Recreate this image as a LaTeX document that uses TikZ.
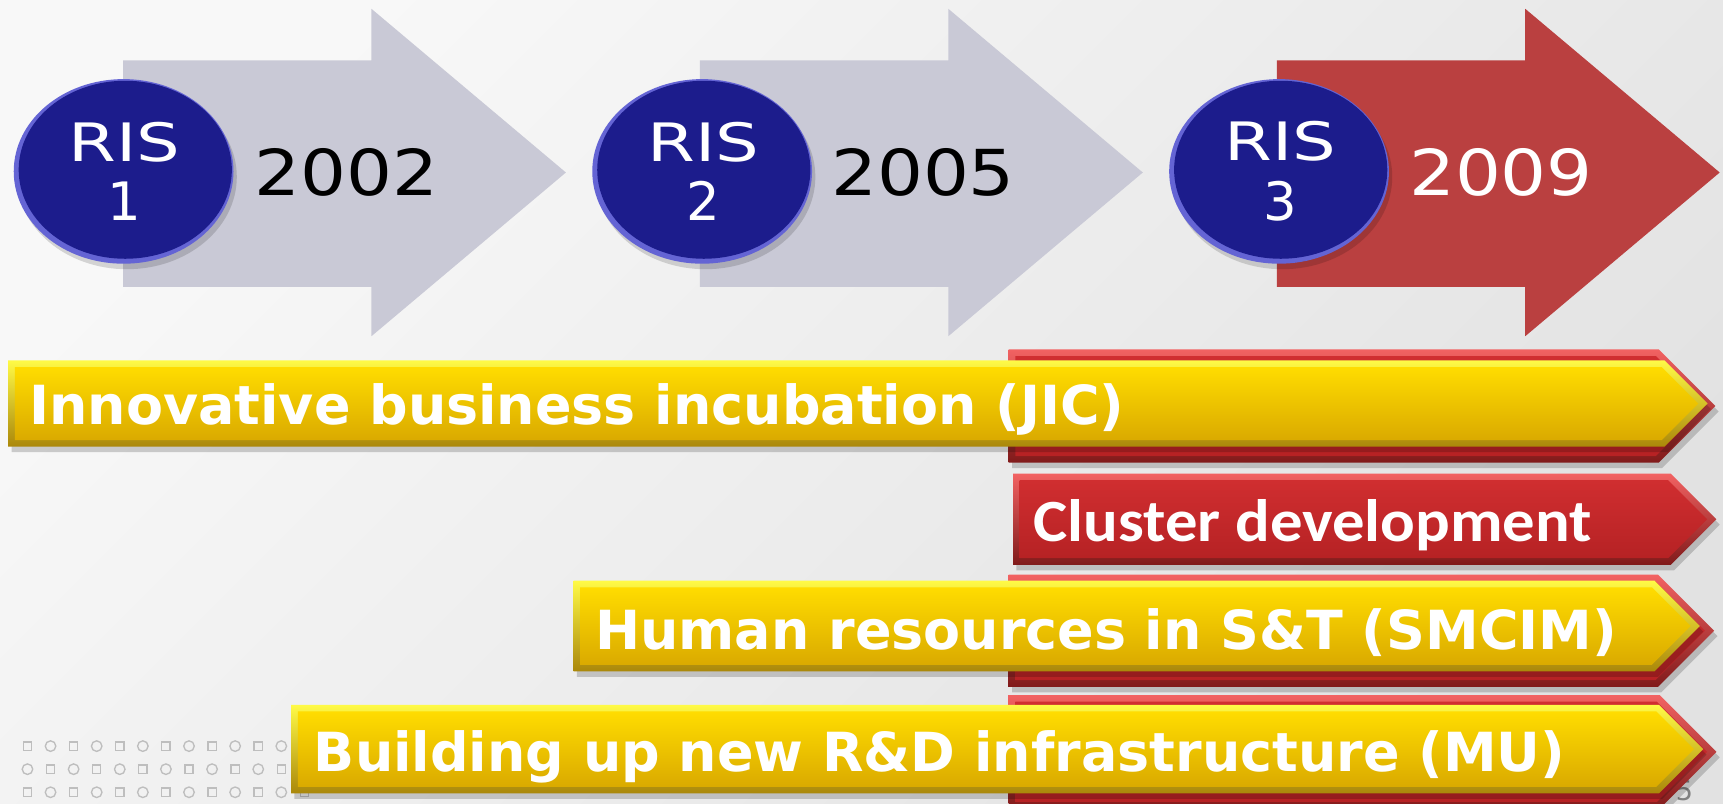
\documentclass[tikz,border=0pt]{standalone}
\usepackage{fontspec}
\setmainfont{DejaVu Sans}
\newfontfamily\calfont{Carlito}
\usepackage{graphicx}

\definecolor{bgA}{RGB}{248,248,248}
\definecolor{bgB}{RGB}{226,226,226}
\definecolor{stepgray}{RGB}{201,201,214}
\definecolor{stepred}{RGB}{186,64,64}
\definecolor{navy}{RGB}{28,28,140}
\definecolor{navyrim}{RGB}{100,100,212}
\definecolor{patgray}{RGB}{190,190,190}
\definecolor{ylTop}{RGB}{255,250,70}
\definecolor{ylBot}{RGB}{170,135,10}
\definecolor{ylInTop}{RGB}{255,220,0}
\definecolor{ylInBot}{RGB}{218,170,0}
\definecolor{rdTop}{RGB}{242,98,98}
\definecolor{rdBot}{RGB}{128,26,26}
\definecolor{rdInTop}{RGB}{208,46,48}
\definecolor{rdInBot}{RGB}{182,34,36}

% 帯の形
\newcommand{\barpath}[4]{(#1,#2) -- ({#4-((#3)-(#2))/2},#2) -- (#4,{((#2)+(#3))/2}) -- ({#4-((#3)-(#2))/2},#3) -- (#1,#3) -- cycle}
\newcommand{\bevelbar}[6]{%
  \fill[black,opacity=.18,shift={(3,5)}] \barpath{#1}{#2}{#3}{#4};
  \shade[#5] \barpath{#1}{#2}{#3}{#4};
  \shade[#6] \barpath{#1+6}{#2+6}{#3-6}{#4-8.5};}

\begin{document}
\begin{tikzpicture}[x=0.01cm, y=-0.01cm,
    yellowouter/.style={top color=ylTop, bottom color=ylBot},
    yellowinner/.style={top color=ylInTop, bottom color=ylInBot},
    redouter/.style={top color=rdTop, bottom color=rdBot},
    redinner/.style={top color=rdInTop, bottom color=rdInBot},
    patmark/.style={draw=patgray, line width=0.35pt},
    ristext/.style={text=white, align=center, inner sep=0pt, font=\fontsize{13.7}{15.4}\selectfont},
    yeartext/.style={inner sep=0pt, font=\fontsize{16.4}{19}\selectfont},
    bartext/.style={text=white, inner sep=0pt, anchor=base west, font=\bfseries\fontsize{13.95}{16}\selectfont}]
    \useasboundingbox (0,0) rectangle (1568,731);
    \clip (0,0) rectangle (1568,731);

    % 背景
    \shade[top color=bgA, bottom color=bgB, shading angle=45] (0,0) rectangle (1568,731);
    \foreach \r in {0,1,2} {
        \foreach \c in {0,...,12} {
            \pgfmathtruncatemacro{\odd}{mod(\r+\c,2)}
            \ifnum\odd=0
                \draw[patmark] ({25+21*\c-3.75},{679+21*\r-3.75}) rectangle ++(7.5,7.5);
            \else
                \draw[patmark] ({25+21*\c},{679+21*\r}) circle [radius=4.8];
            \fi
        }
    }
    \node[text=gray, inner sep=0pt, font=\fontsize{7}{8}\selectfont] (pagenum) at (1533,720) {5};

    % 矢印を描画
    \foreach \ax/\col in {112/stepgray, 637/stepgray, 1162/stepred}
        \fill[\col] (\ax,55) -- (\ax+226,55) -- (\ax+226,8) -- (\ax+403,157)
            -- (\ax+226,306) -- (\ax+226,261) -- (\ax,261) -- cycle;

    % 円を描画
    \foreach \cx in {112.5,639,1164} {
        \fill[black,opacity=.15] (\cx+3,161) ellipse [x radius=100, y radius=84];
        \fill[navyrim] (\cx,156) ellipse [x radius=100, y radius=84];
        \fill[navy] (\cx+1.5,154.5) ellipse [x radius=97, y radius=81];
    }
    \node[ristext] (ris1) at (113.5,156) {\scalebox{1.3}[1]{RIS}\\1};
    \node[ristext] (ris2) at (640,156) {\scalebox{1.3}[1]{RIS}\\2};
    \node[ristext] (ris3) at (1165,156) {\scalebox{1.3}[1]{RIS}\\3};
    \node[yeartext] (y2002) at (315,157) {\scalebox{1.14}[1]{2002}};
    \node[yeartext] (y2005) at (840,157) {\scalebox{1.14}[1]{2005}};
    \node[yeartext, text=white] (y2009) at (1366,157) {\scalebox{1.14}[1]{2009}};

    % 帯を描画
    \bevelbar{918}{318}{421}{1561}{redouter}{redinner}
    \bevelbar{918}{523}{625}{1560}{redouter}{redinner}
    \bevelbar{918}{632.5}{736}{1562}{redouter}{redinner}
    \bevelbar{922}{431}{514}{1562}{redouter}{redinner}
    \bevelbar{7.5}{328}{406.5}{1554}{yellowouter}{yellowinner}
    \bevelbar{522}{528.5}{611}{1547}{yellowouter}{yellowinner}
    \bevelbar{265}{641.5}{722}{1550}{yellowouter}{yellowinner}

    \node[bartext] (jic) at (26,386) {Innovative business incubation (JIC)};
    \node[bartext, font=\calfont\bfseries\fontsize{15.5}{18}\selectfont] (cluster) at (940,493) {\scalebox{1.08}[1]{Cluster development}};
    \node[bartext] (smcim) at (541,591) {Human resources in S\&T (SMCIM)};
    \node[bartext] (mu) at (285,702.5) {Building up new R\&D infrastructure (MU)};
\end{tikzpicture}
\end{document}
